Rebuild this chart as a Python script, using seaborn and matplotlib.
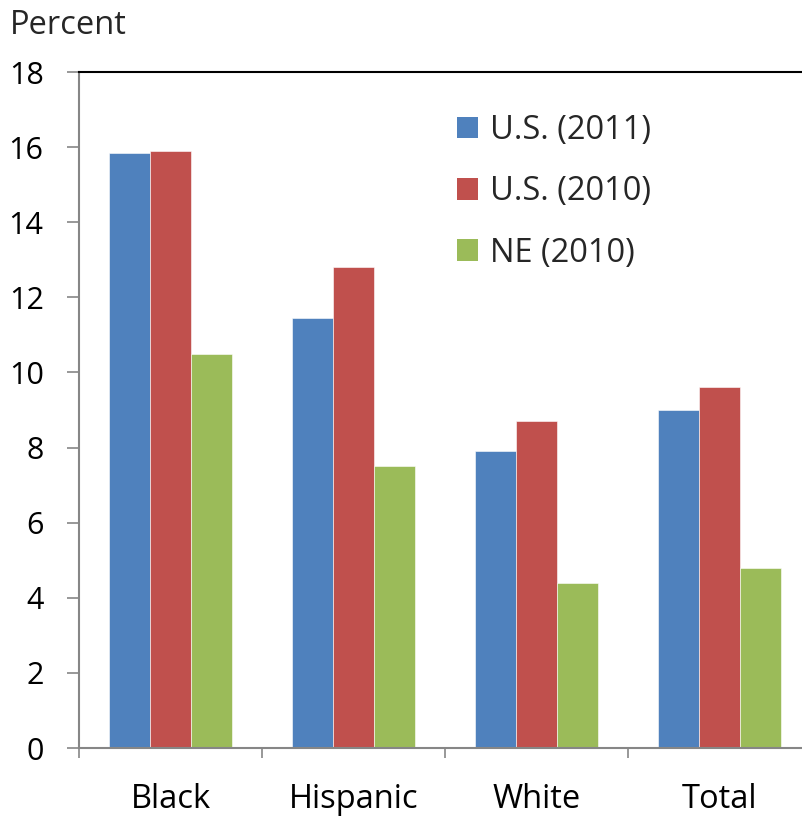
import matplotlib
matplotlib.use("Agg")
import matplotlib.pyplot as plt
import seaborn as sns
import pandas as pd
from matplotlib.ticker import FixedLocator

categories = ["Black", "Hispanic", "White", "Total"]
series_names = ["U.S. (2011)", "U.S. (2010)", "NE (2010)"]
us_2011 = [15.85, 11.45, 7.9, 9.0]
us_2010 = [15.9, 12.8, 8.7, 9.6]
ne_2010 = [10.5, 7.5, 4.4, 4.8]
colors = ["#4F81BD", "#C0504D", "#9BBB59"]
y_ticks = [0, 2, 4, 6, 8, 10, 12, 14, 16, 18]

rows = []
for name, vals in zip(series_names, [us_2011, us_2010, ne_2010]):
    for c, v in zip(categories, vals):
        rows.append({"Category": c, "Series": name, "Value": v})
df = pd.DataFrame(rows)

sns.set_theme(style="white")
plt.rcParams["font.family"] = ["Open Sans", "DejaVu Sans"]

fig = plt.figure(figsize=(8.03, 8.16), dpi=100)
ax = fig.add_axes([79/803, 1-748/816, (811-79)/803, (748-72)/816])

sns.barplot(data=df, x="Category", y="Value", hue="Series", order=categories,
            hue_order=series_names, palette=colors, width=0.667, gap=0,
            edgecolor="white", linewidth=0.4, saturation=1, ax=ax, errorbar=None)

ax.set_xlim(-0.5, 3.5)
ax.set_ylim(0, 18)
ax.set_yticks(y_ticks)
ax.set_yticklabels([str(t) for t in y_ticks], fontsize=22, color="black")
ax.tick_params(axis="y", length=8.5, width=1.2, color="#868686", pad=17, left=True)
ax.tick_params(axis="x", which="major", length=0, labelsize=23.5, pad=25.5, labelcolor="black")
ax.xaxis.set_minor_locator(FixedLocator([-0.5, 0.5, 1.5, 2.5, 3.5]))
ax.tick_params(axis="x", which="minor", length=7.5, width=1.2, color="#868686", bottom=True, direction="out")
ax.set_xlabel("")
ax.set_ylabel("")

for s in ["left", "bottom"]:
    ax.spines[s].set_color("#868686")
    ax.spines[s].set_linewidth(1.5)
ax.spines["top"].set_color("black")
ax.spines["top"].set_linewidth(1.5)
ax.spines["right"].set_visible(False)

leg = ax.legend(loc="upper left", bbox_to_anchor=(457/803, 1-114/816),
                bbox_transform=fig.transFigure, frameon=False, fontsize=23.5,
                handlelength=0.65, handleheight=0.65, handletextpad=0.35,
                labelspacing=0.87, borderpad=0, borderaxespad=0)
for h in leg.legend_handles:
    h.set_edgecolor("none")

fig.text(10/803, 1-25/816, "Percent", fontsize=23.5, va="center", ha="left")

fig.savefig("out.png", dpi=100)
